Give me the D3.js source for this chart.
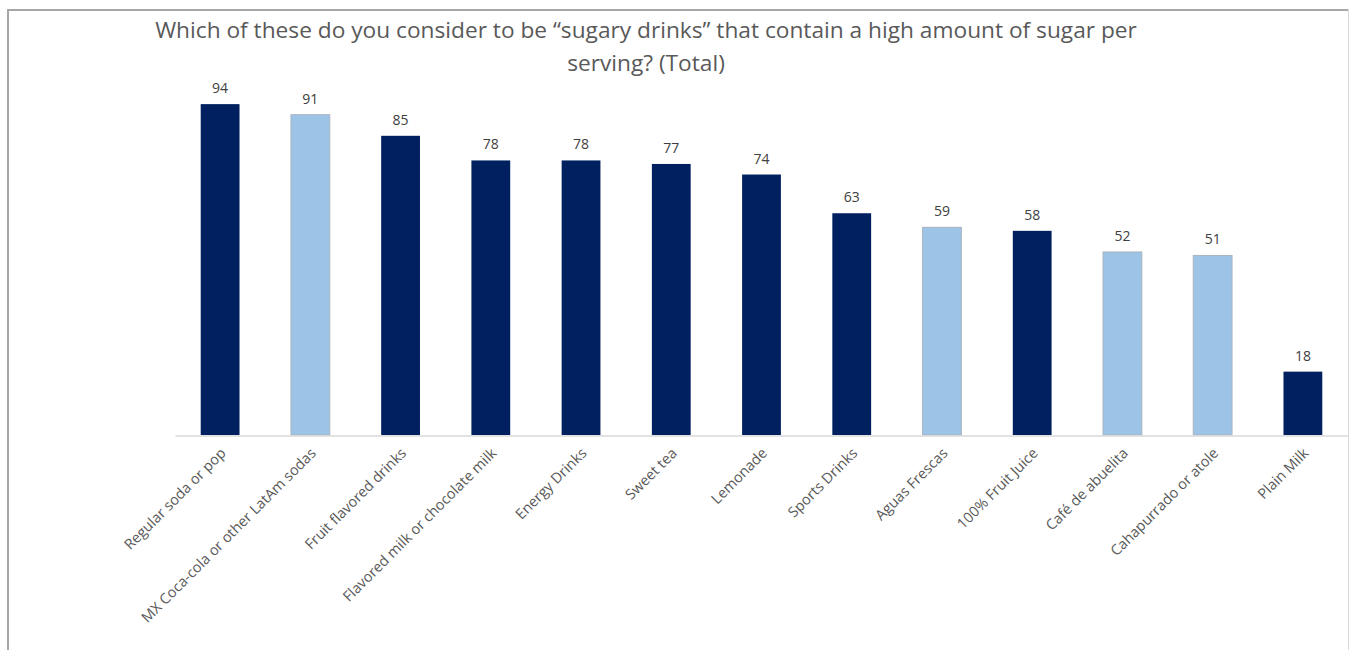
<!DOCTYPE html>
<html><head><meta charset="utf-8">
<script src="https://cdn.jsdelivr.net/npm/d3@7"></script>
<style>html,body{margin:0;padding:0;background:#fff;}svg{display:block;font-family:"Open Sans",sans-serif;}</style>
</head><body><svg id="c" width="1349" height="650"></svg>
<script>
const categories = ["Regular soda or pop","MX Coca-cola or other LatAm sodas","Fruit flavored drinks","Flavored milk or chocolate milk","Energy Drinks","Sweet tea","Lemonade","Sports Drinks","Aguas Frescas","100% Fruit Juice","Café de abuelita","Cahapurrado or atole","Plain Milk"];
const values = [94,91,85,78,78,77,74,63,59,58,52,51,18];
const highlight = [false,true,false,false,false,false,false,false,true,false,true,true,false];
const titleLines = ["Which of these do you consider to be \u201csugary drinks\u201d that contain a high amount of sugar per","serving? (Total)"];

const svg = d3.select("#c");
// outer frame
svg.append("line").attr("x1",8).attr("x2",8).attr("y1",9).attr("y2",650).attr("stroke","#a6a6a6").attr("stroke-width",2);
svg.append("line").attr("x1",7).attr("x2",1349).attr("y1",10).attr("y2",10).attr("stroke","#a6a6a6").attr("stroke-width",2);
svg.append("line").attr("x1",1348.5).attr("x2",1348.5).attr("y1",9).attr("y2",650).attr("stroke","#d9d9d9").attr("stroke-width",1);

const x = d3.scaleBand().domain(categories).range([175,1348]).paddingInner(0.57).paddingOuter(0.285);
const y = d3.scaleLinear().domain([0,100]).range([435,83]);

const g = svg.append("g");
g.selectAll("rect.bar").data(values).join("rect").attr("class","bar")
 .attr("x",(d,i)=>x(categories[i])).attr("width",x.bandwidth())
 .attr("y",d=>y(d)).attr("height",d=>y(0)-y(d))
 .attr("fill",(d,i)=>highlight[i]?"#9dc3e6":"#002060")
 .attr("stroke",(d,i)=>highlight[i]?"#a9b4c0":"none").attr("stroke-width",1);

g.selectAll("text.val").data(values).join("text").attr("class","val")
 .attr("x",(d,i)=>x(categories[i])+x.bandwidth()/2).attr("y",d=>y(d)-11)
 .attr("text-anchor","middle").attr("font-size",14).attr("fill","#404040").text(d=>d);

// axis
const ax = svg.append("g").attr("transform","translate(0,435.5)").call(d3.axisBottom(x).tickSize(0).tickPadding(0));
ax.select(".domain").attr("stroke","#d9d9d9").attr("stroke-width",1.5);
ax.selectAll(".tick text").attr("font-family","Open Sans").attr("font-size",14.5).attr("fill","#595959")
 .attr("text-anchor","end").attr("dy","0.35em")
 .attr("transform","translate(3,15) rotate(-45)");

// title
const t = svg.append("text").attr("text-anchor","middle").attr("fill","#595959").attr("font-size",22.7);
titleLines.forEach((l,i)=>t.append("tspan").attr("x",646).attr("y",38+i*33).text(l));
</script></body></html>
